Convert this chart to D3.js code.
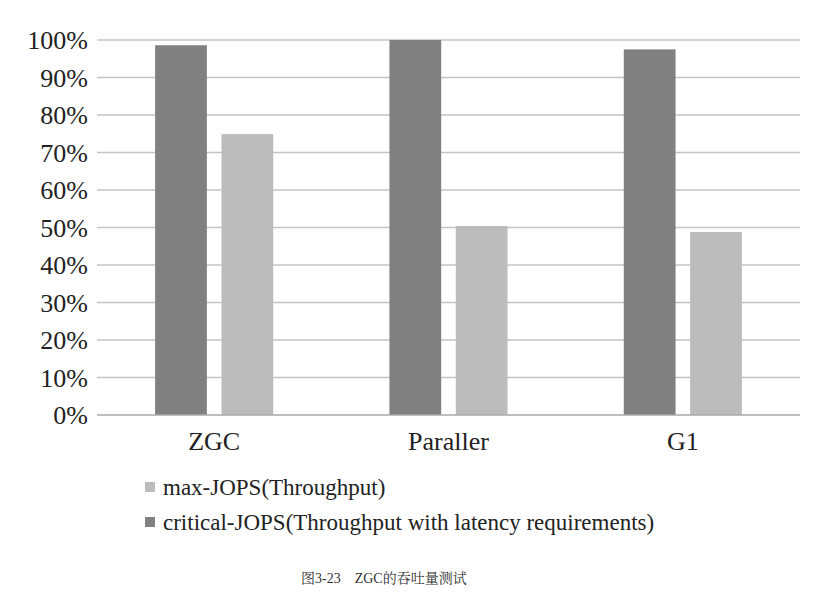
<!DOCTYPE html>
<html><head><meta charset="utf-8">
<script src="https://cdn.jsdelivr.net/npm/d3@7"></script>
<style>body{margin:0;background:#fff;} svg{display:block;}</style>
</head><body>
<svg id="c" width="839" height="601"></svg>
<script>
const categories = ["ZGC", "Paraller", "G1"];
const seriesNames = ["critical-JOPS(Throughput with latency requirements)", "max-JOPS(Throughput)"];
const criticalJOPS = [98.6, 100, 97.5];
const maxJOPS = [74.9, 50.4, 48.8];
const yTicks = [0, 10, 20, 30, 40, 50, 60, 70, 80, 90, 100];
const legendOrder = ["max-JOPS(Throughput)", "critical-JOPS(Throughput with latency requirements)"];
const caption = "图3-23\u3000ZGC的吞吐量测试";

(function () {
const colors = {"critical-JOPS(Throughput with latency requirements)": "#7e8081", "max-JOPS(Throughput)": "#bbbcbe"};
const seriesData = [criticalJOPS, maxJOPS];
const SERIF = '"Liberation Serif", "Times New Roman", Tinos, "Noto Serif CJK SC"';

const svg = d3.select("#c");
const mLeft = 97, mRight = 800, mTop = 40, mBottom = 415;

const x0 = d3.scaleBand().domain(categories).range([mLeft, mRight]).paddingInner(0.496).paddingOuter(0.248);
const x1 = d3.scaleBand().domain(seriesNames).range([0, x0.bandwidth()]).paddingInner(0.22).paddingOuter(0);
const y = d3.scaleLinear().domain([0, 100]).range([mBottom, mTop]);

// gridlines
svg.append("g").selectAll("line").data(yTicks.filter(d => d > 0)).join("line")
  .attr("x1", mLeft).attr("x2", mRight)
  .attr("y1", d => y(d)).attr("y2", d => y(d))
  .attr("stroke", "#c4c4c4").attr("stroke-width", 1.4);

// y labels
svg.append("g").selectAll("text").data(yTicks).join("text")
  .attr("x", 88).attr("y", d => y(d)).attr("dy", "0.35em")
  .attr("text-anchor", "end")
  .style("font-family", SERIF).style("font-size", "26px").attr("fill", "#222")
  .text(d => d + "%");

// bars
const g = svg.append("g");
categories.forEach((c, i) => {
  seriesNames.forEach((s, j) => {
    g.append("rect")
      .attr("x", x0(c) + x1(s))
      .attr("width", x1.bandwidth())
      .attr("y", y(seriesData[j][i]))
      .attr("height", y(0) - y(seriesData[j][i]))
      .attr("fill", colors[s]);
  });
});

// baseline
svg.append("line").attr("x1", mLeft).attr("x2", mRight).attr("y1", y(0)).attr("y2", y(0))
  .attr("stroke", "#a8a8a8").attr("stroke-width", 1.4);

// category labels
svg.append("g").selectAll("text").data(categories).join("text")
  .attr("x", d => x0(d) + x0.bandwidth() / 2).attr("y", 450)
  .attr("text-anchor", "middle")
  .style("font-family", SERIF).style("font-size", "26px").attr("fill", "#222")
  .text(d => d);

// legend
const lg = svg.append("g");
legendOrder.forEach((s, i) => {
  const cy = 487 + i * 35;
  lg.append("rect").attr("x", 145).attr("y", cy - 5).attr("width", 10).attr("height", 10).attr("fill", colors[s]);
  lg.append("text").attr("x", 163).attr("y", cy).attr("dy", "0.35em")
    .style("font-family", SERIF).style("font-size", "23px").attr("fill", "#222").text(s);
});

// caption
svg.append("text").attr("x", 301).attr("y", 583)
  .style("font-family", SERIF).style("font-size", "14px").attr("fill", "#333")
  .text(caption);
})();
</script>
</body></html>
